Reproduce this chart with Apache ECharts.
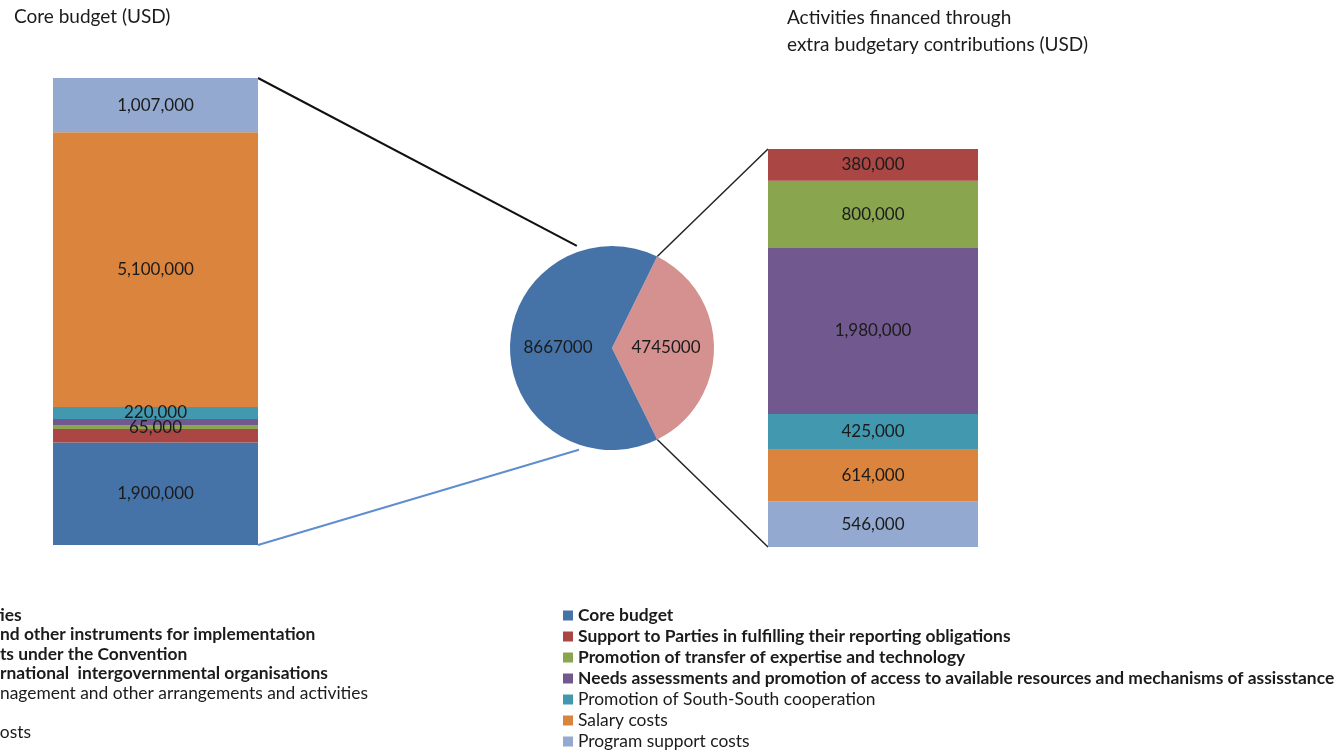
<!DOCTYPE html>
<html>
<head>
<meta charset="utf-8">
<script src="https://cdn.jsdelivr.net/npm/echarts@6.0.0/dist/echarts.min.js"></script>
<style>
html,body{margin:0;padding:0;background:#fff;}
#chart{width:1339px;height:752px;}
</style>
</head>
<body>
<div id="chart"></div>
<script>
// ---- data ----
const coreNames = [
  'Assistance to Parties',
  'Guidance and other instruments for implementation',
  'Meetings and events under the Convention',
  'Cooperation with international  intergovernmental organisations',
  'Knowledge management and other arrangements and activities',
  'Salary costs',
  'Program support costs'
];
// part of each left-legend entry that is visible inside the picture (the rest is cut off at the left edge)
const coreVisible = ['ies', 'nd other', 'ts under', 'rnational', 'nagement', '', 'osts'];
const coreValues = [1900000, 255000, 65000, 120000, 220000, 5100000, 1007000];
const coreLabelled = [true, false, true, false, true, true, true];

const extraNames = [
  'Core budget',
  'Support to Parties in fulfilling their reporting obligations',
  'Promotion of transfer of expertise and technology',
  'Needs assessments and promotion of access to available resources and mechanisms of assisstance',
  'Promotion of South-South cooperation',
  'Salary costs',
  'Program support costs'
];
const extraValues = [0, 380000, 800000, 1980000, 425000, 614000, 546000];

const pieNames = ['Extra budgetary contributions', 'Core budget'];
const pieValues = [4745000, 8667000];

const colors = ['#4572A7', '#AA4643', '#89A54E', '#71588F', '#4198AF', '#DB843D', '#93A9CF'];
const pieColors = ['#D4918F', '#4572A7'];

// ---- layout ----
const FONT = 'Lato';
const LEG = 17.4;
const textColor = '#1b1b1b';
const fmt = v => v.toLocaleString('en-US');

const chart = echarts.init(document.getElementById('chart'), null, {renderer: 'canvas'});

const coreTotal = coreValues.reduce((a, b) => a + b, 0);
const extraTotal = extraValues.reduce((a, b) => a + b, 0);

const series = [];
coreNames.forEach((n, i) => {
  series.push({
    type: 'bar', name: n, stack: 'core', xAxisIndex: 0, yAxisIndex: 0,
    barWidth: '100%',
    itemStyle: {color: colors[i]},
    label: {show: coreLabelled[i], position: 'inside', formatter: p => fmt(p.value),
      color: textColor, fontFamily: FONT, fontSize: 17},
    data: [coreValues[i]]
  });
});
// right bar stacked bottom-up in reverse legend order
for (let i = extraNames.length - 1; i >= 1; i--) {
  series.push({
    type: 'bar', name: extraNames[i], stack: 'extra', xAxisIndex: 1, yAxisIndex: 1,
    barWidth: '100%',
    itemStyle: {color: colors[i]},
    label: {show: true, position: 'inside', formatter: p => fmt(p.value),
      color: textColor, fontFamily: FONT, fontSize: 17},
    data: [extraValues[i]]
  });
}
const pieTotal = pieValues[0] + pieValues[1];
const startAngle = 360 * pieValues[0] / pieTotal / 2;
const pieCenter = [612, 348];
const pieR = 102;
series.push({
  type: 'pie', center: pieCenter, radius: pieR, startAngle: startAngle, clockwise: true,
  silent: true,
  label: {show: true, position: 'inner', formatter: '{c}', color: textColor, fontFamily: FONT, fontSize: 17},
  labelLine: {show: false},
  data: pieNames.map((n, i) => ({name: n, value: pieValues[i], itemStyle: {color: pieColors[i]}}))
});

const isBold = i => i < 4;
const boldItems = n => n.map((name, i) => isBold(i) ? {name, textStyle: {fontWeight: 'bold'}} : {name});

chart.setOption({
  animation: false,
  color: colors,
  title: [
    {text: 'Core budget (USD)', left: 9, top: 2, padding: 5,
      textStyle: {fontFamily: FONT, fontSize: 19, fontWeight: 'normal', color: textColor}},
    {text: 'Activities financed through\nextra budgetary contributions (USD)', left: 782, top: -1, padding: 5,
      textStyle: {fontFamily: FONT, fontSize: 19, fontWeight: 'normal', color: textColor, lineHeight: 27}}
  ],
  grid: [
    {left: 53, top: 78, width: 205, height: 467},
    {left: 768, top: 149, width: 210, height: 398}
  ],
  xAxis: [
    {type: 'category', gridIndex: 0, data: ['Core'], show: false},
    {type: 'category', gridIndex: 1, data: ['Extra'], show: false}
  ],
  yAxis: [
    {type: 'value', gridIndex: 0, min: 0, max: coreTotal, show: false},
    {type: 'value', gridIndex: 1, min: 0, max: extraTotal, show: false}
  ],
  legend: [
    {orient: 'vertical', left: 563, top: 607, height: 200, padding: 0, itemWidth: 10, itemHeight: 10, itemGap: 4,
      icon: 'rect', selectedMode: false,
      textStyle: {fontFamily: FONT, fontSize: LEG, lineHeight: 16, color: textColor},
      data: boldItems(extraNames)}
  ],
  series: series
});

// left legend: cut off by the left edge of the picture
const cv = document.createElement('canvas').getContext('2d');
function leftLegend() {
  const els = [];
  coreNames.forEach((name, i) => {
    const weight = isBold(i) ? 'bold' : 'normal';
    cv.font = weight + ' ' + LEG + 'px ' + FONT;
    let x;
    if (coreVisible[i]) {
      const cut = name.lastIndexOf(coreVisible[i]);
      x = -cv.measureText(name.slice(0, cut)).width;
    } else {
      x = -cv.measureText(name).width - 20;
    }
    els.push({type: 'text', silent: true, x: x, y: 615 + i * 19.5,
      style: {text: name, fill: textColor, fontFamily: FONT, fontSize: LEG, fontWeight: weight,
        verticalAlign: 'middle', align: 'left'}});
  });
  return els;
}

// connector lines computed from axes and pie geometry
function connectors() {
  const lTop = chart.convertToPixel({xAxisIndex: 0, yAxisIndex: 0}, [0, coreTotal]);
  const lBot = chart.convertToPixel({xAxisIndex: 0, yAxisIndex: 0}, [0, 0]);
  const rTop = chart.convertToPixel({xAxisIndex: 1, yAxisIndex: 1}, [0, extraTotal]);
  const rBot = chart.convertToPixel({xAxisIndex: 1, yAxisIndex: 1}, [0, 0]);
  const lRight = 53 + 205, rLeft = 768;
  const rad = d => d * Math.PI / 180;
  const pt = (ang, r) => [pieCenter[0] + r * Math.cos(rad(ang)), pieCenter[1] - r * Math.sin(rad(ang))];
  const pLT = pt(109, pieR + 6), pLB = pt(-108, pieR + 5);
  const pRT = pt(startAngle, pieR), pRB = pt(-startAngle, pieR);
  const line = (a, b, color, w) => ({type: 'line', silent: true,
    shape: {x1: a[0], y1: a[1], x2: b[0], y2: b[1]}, style: {stroke: color, lineWidth: w}});
  return [
    line([lRight, lTop[1]], pLT, '#111', 2),
    line([lRight, lBot[1]], pLB, '#5E8ED0', 2),
    line(pRT, [rLeft, rTop[1]], '#222', 1.5),
    line(pRB, [rLeft, rBot[1]], '#222', 1.5)
  ];
}
chart.setOption({graphic: connectors().concat(leftLegend())});
</script>
</body>
</html>
